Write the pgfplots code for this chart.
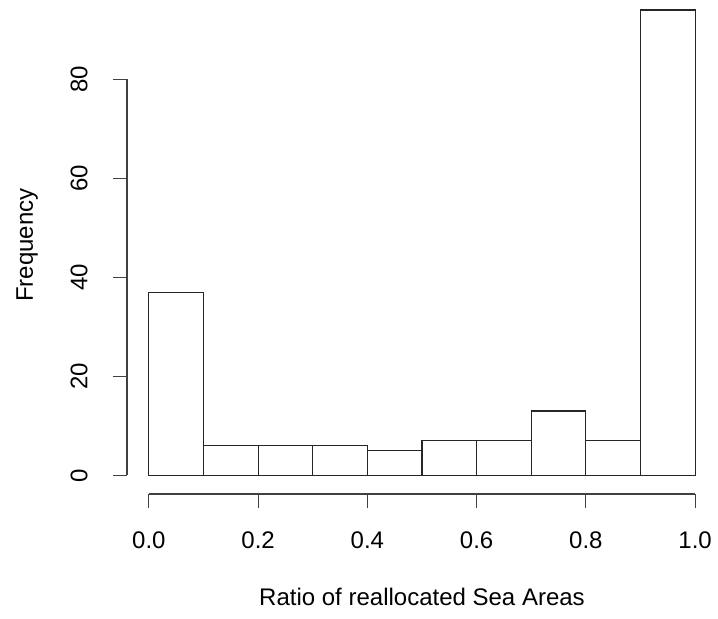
\documentclass[border=0pt]{standalone}
\usepackage{pgfplots}
\pgfplotsset{compat=1.18}
\usepackage{fontspec}
\setmainfont{Liberation Sans}
\begin{document}
\begin{tikzpicture}[font=\fontsize{12}{14}\selectfont]
\useasboundingbox (0,0) rectangle (359pt,309pt);
\begin{axis}[
    at={(63.5pt,62pt)}, anchor=south west,
    scale only axis, width=295pt, height=247pt,
    xmin=-0.04, xmax=1.04, ymin=-3.76, ymax=96,
    axis x line*=bottom, axis y line*=left,
    axis line style={draw=none},
    clip=false,
    tick align=outside, major tick length=7pt,
    tick style={black!75, line width=0.6pt},
    xtick={0,0.2,0.4,0.6,0.8,1.0},
    xticklabels={0.0,0.2,0.4,0.6,0.8,1.0},
    ytick={0,20,40,60,80},
    yticklabels={0,20,40,60,80},
    xticklabel style={anchor=center, yshift=-16pt},
    yticklabel style={xshift=-17pt, rotate=90, anchor=center},
    every axis x label/.style={at={(rel axis cs:0.5,0)}, yshift=-51.5pt, anchor=center},
    every axis y label/.style={at={(rel axis cs:0,0.504)}, xshift=-50pt, rotate=90, anchor=center},
    xlabel={Ratio of reallocated Sea Areas},
    ylabel={Frequency},
]
\addplot[ybar interval, fill=white, draw=black!85, line width=0.6pt]
coordinates {
    (0.0,37)(0.1,6)(0.2,6)(0.3,6)(0.4,5)(0.5,7)(0.6,7)(0.7,13)(0.8,7)(0.9,94)(1.0,94)
};
\draw[black!75, line width=0.6pt] (axis cs:-0.04,0) -- (axis cs:-0.04,80);
\draw[black!75, line width=0.6pt] (axis cs:0,-3.76) -- (axis cs:1,-3.76);
\end{axis}
\end{tikzpicture}
\end{document}
